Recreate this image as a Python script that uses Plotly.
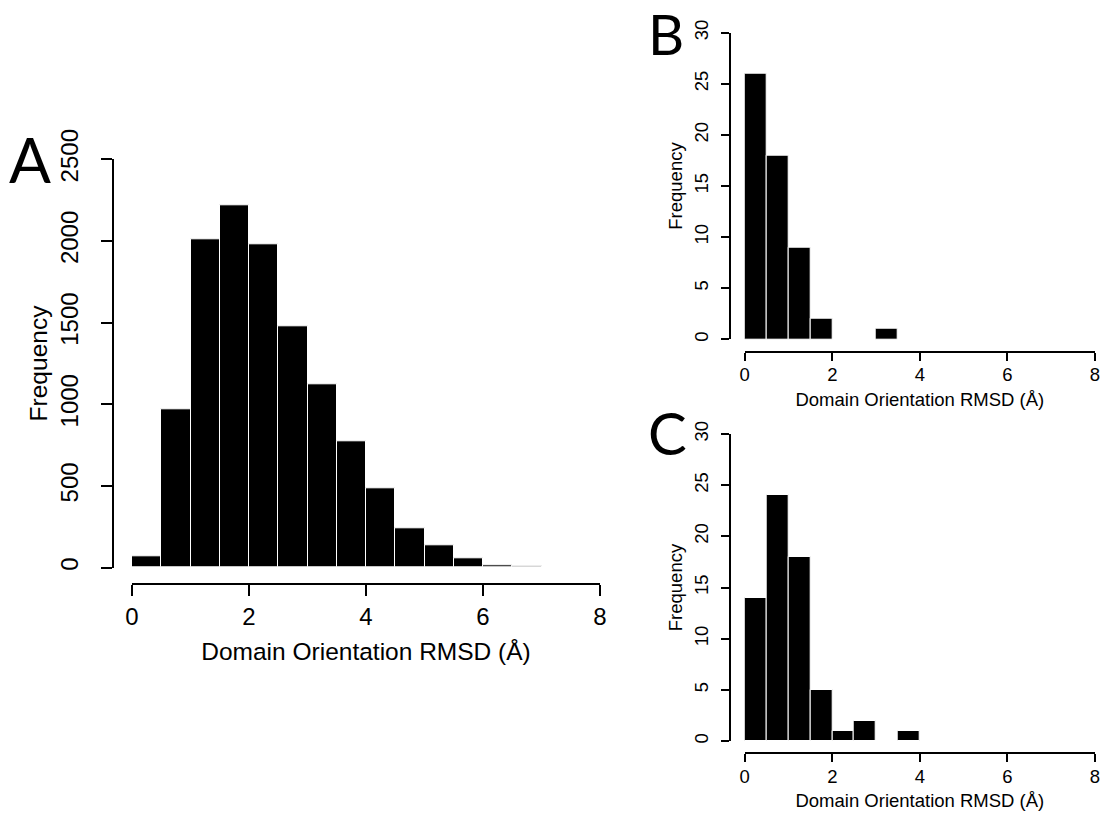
import numpy as np
import plotly.graph_objects as go

# ---- data ----
edges_a = [0, 0.5, 1, 1.5, 2, 2.5, 3, 3.5, 4, 4.5, 5, 5.5, 6, 6.5, 7, 7.5]
counts_a = [67, 967, 2009, 2219, 1979, 1480, 1124, 772, 487, 242, 136, 57, 14, 6, 2]

edges_b = [0, 0.5, 1, 1.5, 2, 2.5, 3, 3.5]
counts_b = [26, 18, 9, 2, 0, 0, 1]

edges_c = [0, 0.5, 1, 1.5, 2, 2.5, 3, 3.5, 4]
counts_c = [14, 24, 18, 5, 1, 2, 0, 1]

x_ticks = [0, 2, 4, 6, 8]
y_ticks_a = [0, 500, 1000, 1500, 2000, 2500]
y_ticks_bc = [0, 5, 10, 15, 20, 25, 30]

x_title = "Domain Orientation RMSD (Å)"
y_title = "Frequency"
panel_labels = ["A", "B", "C"]

W, H = 1101, 813
FONT = "Liberation Sans, Arial, Helvetica, sans-serif"


def px(x):
    return x / W


def py(y):
    return 1 - y / H


def centers(edges):
    e = np.asarray(edges, dtype=float)
    return (e[:-1] + e[1:]) / 2, np.diff(e)


fig = go.Figure()

for i, (edges, counts) in enumerate([(edges_a, counts_a), (edges_b, counts_b), (edges_c, counts_c)]):
    c, w = centers(edges)
    suffix = "" if i == 0 else str(i + 1)
    fig.add_trace(go.Bar(
        x=c, y=counts, width=w,
        marker=dict(color="black", line=dict(color="white", width=1)),
        xaxis="x" + suffix, yaxis="y" + suffix,
        showlegend=False, hoverinfo="x+y",
    ))

# panel geometry (pixels)
panels = [
    dict(x0=132, x8=600, y0=567.7, ytop=159.3, yax=113.3, xax=584.0, ymax=2500, yt=y_ticks_a, fs=24, tl=11,
         xls=0, xts=13, yls=14, yts=0),
    dict(x0=744.7, x8=1095, y0=339.3, ytop=32.7, yax=730.3, xax=351.7, ymax=30, yt=y_ticks_bc, fs=18.5, tl=8,
         xls=-2, xts=8, yls=6, yts=2),
    dict(x0=744.7, x8=1095, y0=741.0, ytop=434.0, yax=730.3, xax=753.3, ymax=30, yt=y_ticks_bc, fs=18.5, tl=8,
         xls=-2, xts=8, yls=6, yts=2),
]

layout = dict(
    width=W, height=H,
    margin=dict(l=0, r=0, t=0, b=0, autoexpand=False),
    paper_bgcolor="white", plot_bgcolor="white",
    font=dict(family=FONT, color="black"),
    bargap=0,
)

for i, p in enumerate(panels):
    suffix = "" if i == 0 else str(i + 1)
    big = i == 0
    layout["xaxis" + suffix] = dict(
        domain=[px(p["x0"]), px(p["x8"])],
        range=[0, 8],
        anchor="free", position=py(p["xax"]),
        automargin=False,
        showline=True, linecolor="black", linewidth=2,
        ticks="outside", ticklen=p["tl"], tickwidth=2, tickcolor="black",
        tickvals=x_ticks, ticktext=[str(v) for v in x_ticks],
        tickfont=dict(size=p["fs"], family=FONT, color="black"),
        ticklabelstandoff=p["xls"],
        showgrid=False, zeroline=False, fixedrange=True,
        title=dict(text=x_title, font=dict(size=p["fs"] + (0.5 if big else 0), family=FONT, color="black"),
                   standoff=p["xts"]),
    )
    layout["yaxis" + suffix] = dict(
        domain=[py(p["y0"]), py(p["ytop"])],
        range=[0, p["ymax"]],
        anchor="free", position=px(p["yax"]),
        automargin=False,
        showline=True, linecolor="black", linewidth=2,
        ticks="outside", ticklen=p["tl"], tickwidth=2, tickcolor="black",
        tickvals=p["yt"], ticktext=[str(v) for v in p["yt"]],
        tickangle=-90,
        tickfont=dict(size=p["fs"], family=FONT, color="black"),
        ticklabelstandoff=p["yls"],
        showgrid=False, zeroline=False, fixedrange=True,
        title=dict(text=y_title, font=dict(size=p["fs"] + (0.5 if big else 0), family=FONT, color="black"),
                   standoff=p["yts"]),
    )

label_pos = [(30, 159, 62), (666, 34, 56), (667, 432, 58)]
annotations = []
for lab, (lx, ly, s) in zip(panel_labels, label_pos):
    annotations.append(dict(
        text=lab, x=px(lx), y=py(ly), xref="paper", yref="paper",
        xanchor="center", yanchor="middle", showarrow=False,
        font=dict(family="Lato, Noto Sans, sans-serif", size=s, color="black"),
    ))
layout["annotations"] = annotations

fig.update_layout(**layout)
fig.write_html("out.html")
